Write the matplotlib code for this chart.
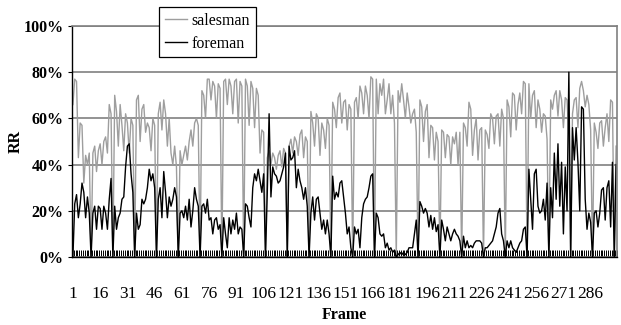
import matplotlib
matplotlib.use("Agg")
import matplotlib.pyplot as plt
import numpy as np

plt.rcParams["font.family"] = ["Liberation Serif", "DejaVu Serif"]

# RR per frame (%), one line per GOP, I-frames are the zeros
salesman = [
    66, 77, 76, 43, 58, 57, 32, 44, 40, 45, 0,
    45, 48, 37, 46, 49, 40, 50, 52, 45, 66, 62, 0,
    70, 63, 48, 66, 57, 46, 62, 58, 45, 60, 57, 0,
    68, 70, 50, 64, 66, 54, 58, 56, 46, 60, 57, 0,
    62, 67, 55, 68, 62, 48, 60, 45, 40, 48, 39, 0,
    46, 40, 44, 48, 42, 50, 55, 48, 58, 60, 57, 0,
    72, 70, 60, 77, 77, 68, 76, 74, 60, 75, 73, 0,
    76, 77, 66, 77, 74, 62, 76, 77, 58, 76, 74, 0,
    77, 74, 57, 76, 73, 56, 73, 70, 45, 55, 54, 0,
    43, 46, 40, 45, 43, 38, 44, 46, 39, 47, 45, 0,
    48, 51, 45, 52, 50, 44, 53, 55, 43, 52, 50, 0,
    63, 58, 48, 62, 60, 44, 58, 55, 47, 60, 57, 0,
    67, 64, 56, 69, 71, 58, 67, 68, 55, 66, 64, 0,
    67, 69, 60, 74, 71, 62, 74, 70, 60, 78, 77, 0,
    77, 62, 75, 70, 77, 62, 68, 75, 62, 70, 58, 0,
    72, 67, 75, 68, 60, 71, 65, 58, 62, 64, 54, 0,
    68, 65, 50, 63, 66, 43, 57, 56, 42, 54, 50, 0,
    55, 54, 43, 53, 52, 40, 52, 49, 54, 40, 54, 0,
    58, 56, 48, 67, 64, 44, 55, 60, 42, 55, 56, 0,
    55, 53, 47, 62, 60, 49, 61, 62, 48, 64, 60, 0,
    68, 65, 52, 71, 70, 55, 66, 71, 62, 76, 75, 0,
    75, 60, 70, 72, 56, 68, 64, 54, 62, 61, 51, 0,
    68, 64, 70, 72, 61, 72, 68, 56, 69, 68, 52, 0,
    62, 68, 69, 56, 73, 76, 72, 65, 70, 66, 55, 0,
    58, 54, 47, 58, 59, 48, 56, 62, 50, 68, 67, 0,
    48,
]

foreman = [
    0, 23, 27, 17, 23, 32, 28, 17, 26, 19, 0,
    19, 22, 12, 22, 21, 12, 22, 19, 12, 25, 34, 0,
    22, 12, 17, 19, 25, 26, 39, 48, 49, 36, 28, 0,
    19, 12, 14, 25, 23, 25, 30, 38, 33, 36, 30, 0,
    25, 30, 17, 37, 28, 17, 26, 22, 25, 30, 26, 0,
    19, 20, 17, 22, 16, 25, 13, 20, 30, 25, 22, 0,
    22, 23, 19, 25, 16, 17, 10, 16, 17, 12, 14, 0,
    17, 10, 4, 17, 10, 16, 12, 19, 10, 13, 12, 0,
    23, 22, 17, 13, 30, 36, 33, 38, 33, 28, 36, 0,
    28, 62, 26, 39, 36, 35, 32, 33, 36, 39, 45, 0,
    48, 42, 43, 46, 30, 38, 33, 30, 25, 30, 22, 0,
    19, 26, 16, 25, 26, 19, 12, 16, 10, 16, 10, 0,
    35, 25, 28, 26, 32, 33, 26, 19, 10, 13, 4, 0,
    13, 10, 12, 4, 17, 23, 25, 26, 30, 35, 36, 0,
    19, 17, 10, 9, 10, 4, 6, 3, 4, 2, 3, 0,
    1, 2, 1, 2, 1, 2, 4, 4, 4, 10, 16, 0,
    24, 22, 19, 21, 19, 13, 18, 12, 17, 11, 14, 0,
    16, 12, 7, 13, 10, 7, 10, 12, 10, 9, 7, 0,
    9, 4, 7, 4, 5, 4, 6, 7, 7, 7, 6, 0,
    4, 4, 5, 6, 7, 10, 13, 19, 21, 10, 7, 0,
    7, 4, 7, 4, 3, 2, 4, 6, 7, 12, 13, 0,
    38, 25, 12, 36, 38, 22, 19, 20, 25, 16, 32, 0,
    30, 17, 45, 25, 49, 22, 41, 10, 39, 20, 80, 0,
    56, 42, 56, 41, 20, 65, 64, 25, 12, 19, 15, 0,
    19, 20, 13, 19, 29, 30, 16, 30, 33, 13, 41, 0,
    40,
]

frames = np.arange(1, len(salesman) + 1)
tick_frames = list(range(1, 287, 15))
y_ticks = list(range(0, 101, 20))

fig = plt.figure(figsize=(6.21, 3.25), dpi=100)
ax = fig.add_axes([72 / 621, 1 - 257 / 325, 545 / 621, 231 / 325])

ax.plot(frames, salesman, color="#9e9e9e", lw=1.0, label="salesman")
ax.plot(frames, foreman, color="black", lw=1.0, label="foreman")

ax.set_xlim(0.5, len(frames) + 0.5)
ax.set_ylim(0, 100)
ax.set_yticks(y_ticks)
ax.set_yticklabels([f"{v}%" for v in y_ticks], fontweight="bold", fontsize=11.5)
ax.set_xticks(tick_frames)
ax.set_xticklabels([str(t) for t in tick_frames], fontsize=12.5)
ax.set_xticks(np.arange(0.5, len(frames) + 1, 1), minor=True)
ax.tick_params(axis="x", which="major", length=0, pad=21)
ax.tick_params(axis="x", which="minor", direction="in", length=5, width=0.7)
ax.tick_params(axis="y", length=3, width=0.8, pad=3)

ax.yaxis.grid(True, color="#808080", lw=1.2)
ax.set_axisbelow(True)
for side in ["top", "right"]:
    ax.spines[side].set_color("#808080")
    ax.spines[side].set_linewidth(1.2)
for side in ["left", "bottom"]:
    ax.spines[side].set_color("black")
    ax.spines[side].set_linewidth(1.0)

ax.set_xlabel("Frame", fontweight="bold", fontsize=11.5)
ax.xaxis.set_label_coords(0.5, -0.215)
ax.set_ylabel("RR", fontweight="bold", fontsize=11.5)
ax.yaxis.set_label_coords(-0.088, 0.5)

leg = fig.legend(loc="upper left", bbox_to_anchor=(159 / 621, 1 - 7 / 325),
                 fontsize=11.5, frameon=True, fancybox=False, framealpha=1,
                 edgecolor="black", borderaxespad=0, borderpad=0.35,
                 handlelength=1.4, handletextpad=0.3, labelspacing=0.45)
leg.get_frame().set_linewidth(0.9)

fig.savefig("out.png", dpi=100)
